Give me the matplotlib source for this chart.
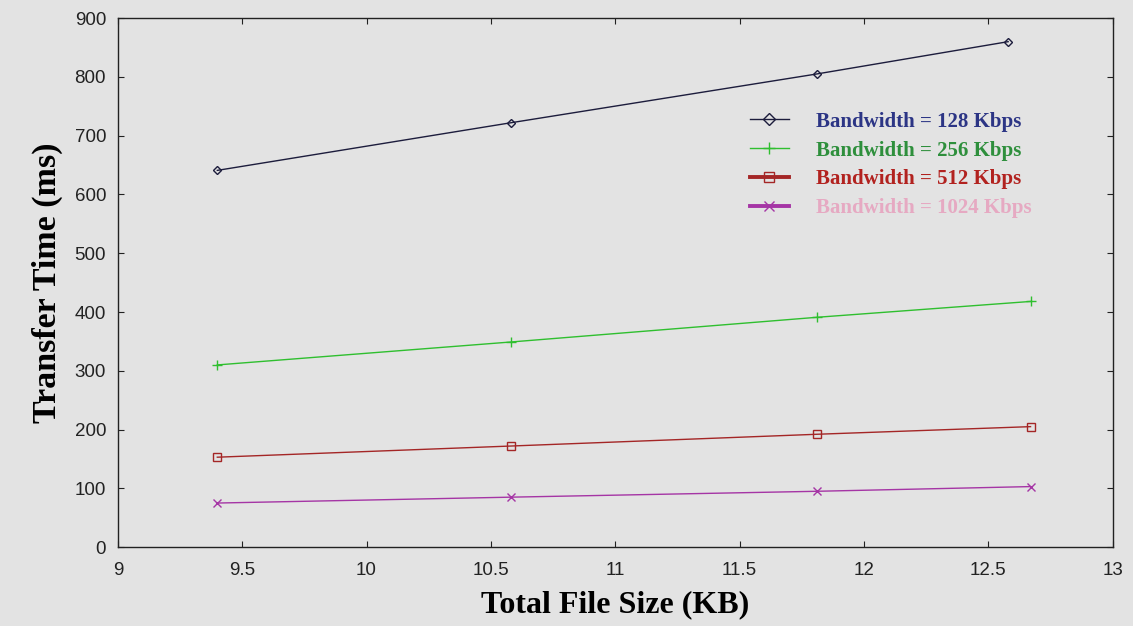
import matplotlib
matplotlib.use("Agg")
import matplotlib.pyplot as plt
from matplotlib.lines import Line2D

# ─── Data ────────────────────────────────────────────────────────────────────

file_size_128 = [9.40, 10.58, 11.81, 12.58]
file_size = [9.40, 10.58, 11.81, 12.67]

time_128 = [641, 722, 805, 860]
time_256 = [310, 349, 391, 418]
time_512 = [153, 172, 192, 205]
time_1024 = [75, 85, 95, 103]

labels = ["Bandwidth = 128 Kbps", "Bandwidth = 256 Kbps",
          "Bandwidth = 512 Kbps", "Bandwidth = 1024 Kbps"]

# ─── Style ───────────────────────────────────────────────────────────────────

BG = "#e3e3e3"
LINE_COLORS = ["#1c1c3c", "#2fbf2f", "#a42626", "#a535a5"]
TEXT_COLORS = ["#2c3585", "#2e8f3c", "#b2221f", "#e6a9c2"]
MARKERS = ["D", "+", "s", "x"]
MARKER_SIZES = [4.5, 7, 6, 6]

plt.rcParams["font.family"] = ["Liberation Sans", "DejaVu Sans"]

fig = plt.figure(figsize=(11.33, 6.26), dpi=100, facecolor=BG)
ax = fig.add_axes([0.104, 0.126, 0.878, 0.845], facecolor=BG)

series = [(file_size_128, time_128), (file_size, time_256),
          (file_size, time_512), (file_size, time_1024)]

for (xs, ys), c, m, ms in zip(series, LINE_COLORS, MARKERS, MARKER_SIZES):
    ax.plot(xs, ys, color=c, lw=1.0, marker=m, ms=ms,
            markerfacecolor="none", markeredgecolor=c, markeredgewidth=1.0)

ax.set_xlim(9, 13)
ax.set_ylim(0, 900)
ax.set_xticks([9, 9.5, 10, 10.5, 11, 11.5, 12, 12.5, 13])
ax.set_xticklabels(["9", "9.5", "10", "10.5", "11", "11.5", "12", "12.5", "13"])
ax.set_yticks(range(0, 901, 100))
ax.tick_params(direction="in", top=True, right=True, length=4,
               labelsize=13.5, colors="#222222")
ax.tick_params(axis="x", pad=11)
ax.tick_params(axis="y", pad=8.5)
for s in ax.spines.values():
    s.set_color("#222222")
    s.set_linewidth(1.0)

ax.set_xlabel("Total File Size (KB)", family="Liberation Serif",
              fontweight="bold", fontsize=23, labelpad=8)
ax.set_ylabel("Transfer Time (ms)", family="Liberation Serif",
              fontweight="bold", fontsize=24.5, labelpad=8)

# legend handles: thin for first two, thick for last two
handle_lw = [1.0, 1.0, 2.8, 2.8]
handle_ms = [6, 8, 7, 7]
handles = [Line2D([], [], color=c, lw=lw, marker=m, ms=ms,
                  markerfacecolor="none", markeredgecolor=c)
           for c, m, lw, ms in zip(LINE_COLORS, MARKERS, handle_lw, handle_ms)]
leg = ax.legend(handles, labels, loc="upper left",
                bbox_to_anchor=(0.635, 0.823), frameon=False,
                prop={"family": "Liberation Serif", "weight": "bold", "size": 15},
                handlelength=1.9, handletextpad=1.3, labelspacing=0.42,
                borderpad=0, borderaxespad=0)
for t, c in zip(leg.get_texts(), TEXT_COLORS):
    t.set_color(c)

fig.savefig("out.png", dpi=100, facecolor=BG)
